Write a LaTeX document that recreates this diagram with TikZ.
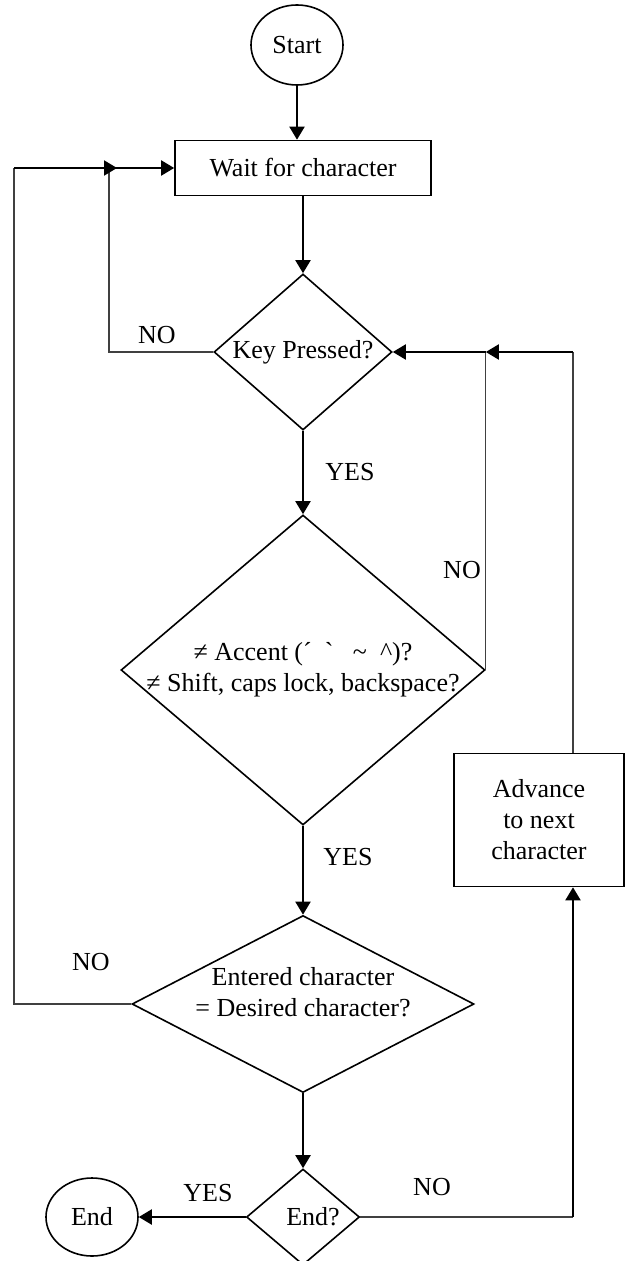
\documentclass[tikz,border=0pt]{standalone}
\usepackage{fontspec}
\setmainfont{Liberation Serif}[Ligatures=TeXOff]
\usetikzlibrary{arrows.meta,shapes.geometric}

\tikzset{
  flow/.style={line width=1pt,-{Triangle[length=6.5pt,width=7.5pt]}},
  loopline/.style={line width=0.55pt,black!75},
  terminal/.style={ellipse,draw,line width=0.8pt,inner sep=0pt,minimum width=46pt,minimum height=40pt},
  process/.style={rectangle,draw,line width=0.8pt,inner sep=0pt,align=center},
  decision/.style={diamond,draw,line width=0.8pt,inner sep=0pt}
}

\begin{document}
\begin{tikzpicture}[x=0.5pt,y=-0.5pt,every node/.style={font=\fontsize{13}{15.5}\selectfont}]
			\useasboundingbox (0,0) rectangle (625,1261);
			
			% main column
			\node [terminal] (start) at (297,45) {Start};
			\node [process,minimum width=128pt,minimum height=27.5pt] (wait) at (303,168) {Wait for character};
			\node [decision,minimum width=89pt,minimum height=78pt,label={center:Key Pressed?}] (key) at (303,352) {};
			\node [decision,minimum width=182pt,minimum height=155pt,
			       label={[align=center]center:{≠ Accent (\symbol{"B4}\ \ \symbol{"60}\ \ \ \symbol{"7E}\ \ \symbol{"5E})?\\≠ Shift, caps lock, backspace?}}] (accent) at (303,670) {};
			\node [decision,minimum width=171pt,minimum height=88.5pt,
			       label={[align=center,yshift=6pt]center:{Entered character\\= Desired character?}}] (match) at (303,1004) {};
			\node [decision,minimum width=56.5pt,minimum height=48pt,label={[xshift=5pt]center:End?}] (last) at (303,1217) {};
			\node [terminal,minimum height=39pt] (stop) at (92,1217) {End};
			
			% side box
			\node [process,minimum width=85pt,minimum height=66.5pt] (advance) at (539,820) {Advance\\to next\\character};
			
			\draw [flow] (start.south) -- (start.south |- wait.north);
			\draw [flow] (wait.south) -- (key.north);
			\draw [flow] (key.south) -- (accent.north);
			\draw [flow] (accent.south) -- (match.north);
			\draw [flow] (match.south) -- (last.north);
			\draw [flow] (last.west) -- (stop.east);
			
			% NO from key pressed
			\coordinate (keyleft) at (109,352);
			\coordinate (keytop) at (109,168);
			\draw [loopline] (key.west) -- (keyleft) -- (keytop);
			\draw [flow] (keytop) -- (wait.west);
			
			% NO from character check
			\coordinate (outleft) at (14,1004);
			\coordinate (outtop) at (14,168);
			\coordinate (outend) at (117,168);
			\draw [loopline] (match.west) -- (outleft) -- (outtop);
			\draw [flow] (outtop) -- (outend);
			
			% NO from accent check
			\coordinate (accup) at (accent.east |- key.east);
			\draw [loopline] (accent.east) -- (accup);
			\draw [flow] (accup) -- (key.east);
			
			% back from advance
			\coordinate (advup) at ([xshift=17pt]advance.north |- key.east);
			\draw [loopline] ([xshift=17pt]advance.north) -- (advup);
			\draw [flow] (advup) -- (accup);
			
			% NO from end check
			\coordinate (lastright) at ([xshift=17pt]advance.south |- last.east);
			\draw [loopline] (last.east) -- (lastright);
			\draw [flow] (lastright) -- ([xshift=17pt]advance.south);
			
			\node (no1) at (157,335) {NO};
			\node (yes1) at (350,472) {YES};
			\node (no2) at (462,570) {NO};
			\node (yes2) at (348,857) {YES};
			\node (no3) at (91,962) {NO};
			\node (yes3) at (208,1193) {YES};
			\node (no4) at (432,1187) {NO};
\end{tikzpicture}
\end{document}
